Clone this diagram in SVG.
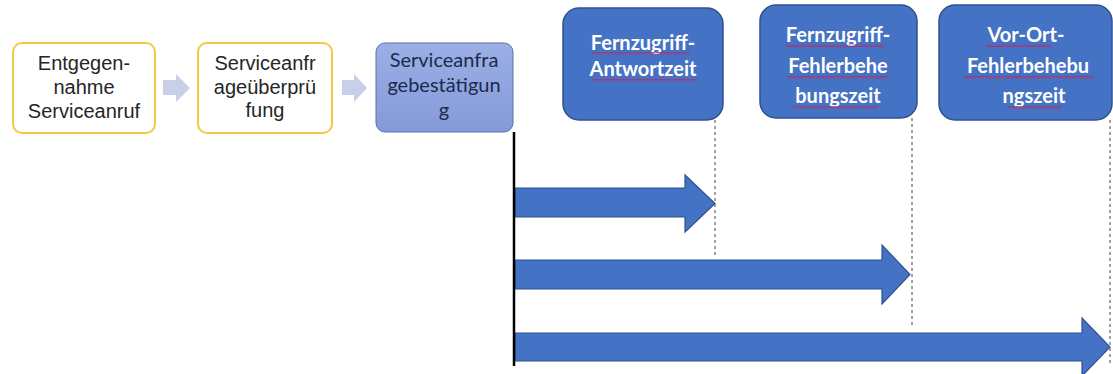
<svg xmlns="http://www.w3.org/2000/svg" width="1113" height="374" viewBox="0 0 1113 374">
<defs>
<linearGradient id="g3" x1="0" y1="0" x2="0" y2="1">
<stop offset="0" stop-color="#9cb0e6"/>
<stop offset="1" stop-color="#8499d8"/>
</linearGradient>
<pattern id="sq" width="4" height="3" patternUnits="userSpaceOnUse">
<polyline points="0,2.5 1,0.5 2,2.5 3,0.5 4,2.5" fill="none" stroke="#b0306a" stroke-width="0.8"/>
</pattern>
</defs>
<style>
.yb{fill:#fff;stroke:#f5c842;stroke-width:2}
.lt{font-family:"Liberation Sans",Arial,sans-serif;font-size:20px;fill:#262626;text-anchor:middle}
.pb{font-family:Lato,"Liberation Sans",sans-serif;font-size:20px;fill:#1c2a4c;text-anchor:middle}
.bb{fill:#4472c4;stroke:#2f528f;stroke-width:1.5}
.wt{font-family:Lato,"Liberation Sans",sans-serif;font-weight:bold;font-size:20px;fill:#fff;text-anchor:middle}
.ch{fill:#c8cfe8}
.dl{stroke:#444;stroke-width:1;stroke-dasharray:3 3;fill:none}
.ar{fill:#4472c4;stroke:#2f528f;stroke-width:1.2}
</style>
<g id="n1">
<rect class="yb" x="13" y="43" width="142" height="90" rx="9"/>
<text class="lt" x="84" y="70">Entgegen-</text>
<text class="lt" x="84" y="94">nahme</text>
<text class="lt" x="84" y="118">Serviceanruf</text>
</g>
<g id="n2">
<rect class="yb" x="198" y="43" width="134" height="90" rx="9"/>
<text class="lt" x="265" y="70">Serviceanfr</text>
<text class="lt" x="265" y="94">ageüberprü</text>
<text class="lt" x="265" y="117">fung</text>
</g>
<g id="n3">
<rect x="376" y="43" width="137" height="89" rx="9" fill="url(#g3)" stroke="#5d6fa6" stroke-width="1"/>
<text class="pb" x="444" y="67">Serviceanfra</text>
<text class="pb" x="444" y="92">gebestätigun</text>
<text class="pb" x="444" y="117">g</text>
</g>
<g id="n4">
<rect class="bb" x="563" y="8" width="160" height="112" rx="16"/>
<text class="wt" x="643" y="50">Fernzugriff-</text>
<text class="wt" x="643" y="76">Antwortzeit</text>
<rect x="592" y="52" width="98" height="3" fill="url(#sq)"/>
<rect x="592" y="79" width="104" height="3" fill="url(#sq)"/>
</g>
<g id="n5">
<rect class="bb" x="760" y="5" width="157" height="113" rx="16"/>
<text class="wt" x="838" y="42">Fernzugriff-</text>
<text class="wt" x="838" y="73">Fehlerbehe</text>
<text class="wt" x="838" y="103">bungszeit</text>
<rect x="786" y="44" width="98" height="3" fill="url(#sq)"/>
<rect x="787" y="76" width="101" height="3" fill="url(#sq)"/>
<rect x="793" y="106" width="85" height="3" fill="url(#sq)"/>
</g>
<g id="n6">
<rect class="bb" x="939" y="5" width="173" height="115" rx="16"/>
<text class="wt" x="1026" y="42">Vor-Ort-</text>
<text class="wt" x="1028" y="73">Fehlerbehebu</text>
<text class="wt" x="1034" y="103">ngszeit</text>
<rect x="986" y="44" width="66" height="3" fill="url(#sq)"/>
<rect x="963" y="76" width="131" height="3" fill="url(#sq)"/>
<rect x="1007" y="106" width="55" height="3" fill="url(#sq)"/>
</g>
<g id="connectors">
<path class="ch" d="M163,80 H176 V74 L190,88 L176,102 V95 H163 Z"/>
<path class="ch" d="M342,80 H354 V74 L367,88 L354,102 V95 H342 Z"/>
<line class="dl" x1="715" y1="120" x2="715" y2="258"/>
<line class="dl" x1="912" y1="118" x2="912" y2="328"/>
<line class="dl" x1="1110" y1="120" x2="1110" y2="366"/>
<path class="ar" d="M515,188 H685 V175 L715,203.5 L685,232 V217 H515 Z"/>
<path class="ar" d="M515,260 H882 V245 L910,274.5 L882,304 V289 H515 Z"/>
<path class="ar" d="M515,333 H1082 V318 L1110,347 L1082,376 V361 H515 Z"/>
<line x1="514" y1="132" x2="514" y2="366" stroke="#000" stroke-width="2.5"/>
</g>
</svg>
